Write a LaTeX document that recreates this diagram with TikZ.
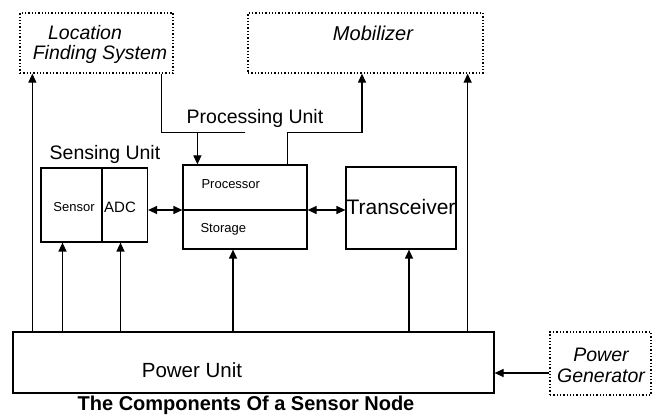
\documentclass[tikz,border=0pt]{standalone}
\usepackage{fontspec}
\setmainfont{Liberation Sans}
\usetikzlibrary{arrows.meta}

\tikzset{
  unitbox/.style={draw, line width=1.2pt, inner sep=0pt},
  outerbox/.style={draw, dotted, line width=1.3pt, inner sep=0pt},
  arr/.style={line width=1.2pt, -{Triangle[width=8pt,length=9pt]}},
  dbl/.style={line width=1.2pt, {Triangle[width=8pt,length=9pt]}-{Triangle[width=8pt,length=9pt]}},
  lbl/.style={font=\fontsize{19.5}{22}\selectfont},
  ital/.style={font=\fontsize{#1}{22}\selectfont\itshape},
  small/.style={font=\fontsize{13}{15}\selectfont}
}

\begin{document}
\begin{tikzpicture}[x=1pt, y=-1pt]
\useasboundingbox (0,0) rectangle (657,419);

% Outer (dotted) parts
\node[outerbox, minimum width=153pt, minimum height=60pt] (loc) at (96.5,43) {};
\node[ital=19.5] at (85,33) {Location};
\node[ital=19.5] at (100,54) {Finding System};
\node[outerbox, minimum width=235pt, minimum height=60pt] (mob) at (365.5,43) {};
\node[ital=20] at (373,33) {Mobilizer};
\node[outerbox, minimum width=101pt, minimum height=63pt] (pgen) at (600.5,363.5) {};
\node[ital=19.5] at (601,355) {Power};
\node[ital=19.5] at (601,376) {Generator};

% Sensing unit
\node[lbl] at (105,154) {Sensing Unit};
\node[unitbox, minimum width=61pt, minimum height=74pt] (sensor) at (71.5,205) {};
\node[unitbox, minimum width=46pt, minimum height=74pt] (adc) at (124.5,205) {};
\node[small] at (74,207) {Sensor};
\node[small, font=\fontsize{15}{17}\selectfont] at (120,207) {ADC};

% Processing unit
\node[lbl] at (255,118) {Processing Unit};
\node[unitbox, minimum width=124pt, minimum height=84pt] (proc) at (245,207) {};
\coordinate (procw) at ([yshift=-3pt]proc.west);
\coordinate (proce) at ([yshift=-3pt]proc.east);
\draw[line width=1.2pt] (procw) -- (proce);
\node[small, anchor=west] at (198,184) {Processor};
\node[small, anchor=west] at (197,229) {Storage};

% Transceiver
\node[unitbox, minimum width=110pt, minimum height=82pt] (trx) at (401,208) {};
\node[font=\fontsize{21}{24}\selectfont] at (401,207) {Transceiver};

% Power unit
\node[unitbox, minimum width=481pt, minimum height=61pt] (power) at (253.5,362.5) {};
\node[font=\fontsize{20.5}{24}\selectfont] at (192,370) {Power Unit};
\coordinate (pgenw) at ([yshift=-9.5pt]pgen.west);

% Connections
\draw[dbl] (adc.east |- procw) -- (procw);
\draw[dbl] (proce) -- (trx.west |- proce);
\draw[arr] ([xshift=13pt]loc.south west |- power.north) -- ([xshift=13pt]loc.south west);
\draw[arr] ([xshift=-12pt]loc.south east) |- ([yshift=32pt]proc.north) -| ([xshift=15pt]proc.north west);
\draw[arr] ([xshift=-20pt]proc.north east) -- ++(0,-32) -| ([xshift=-3.5pt]mob.south);
\draw[arr] ([xshift=-16pt]mob.south east |- power.north) -- ([xshift=-16pt]mob.south east);
\draw[arr] ([xshift=-9pt]sensor.south |- power.north) -- ([xshift=-9pt]sensor.south);
\draw[arr] ([xshift=-4pt]adc.south |- power.north) -- ([xshift=-4pt]adc.south);
\draw[arr] ([xshift=-12pt]proc.south |- power.north) -- ([xshift=-12pt]proc.south);
\draw[arr] ([xshift=8pt]trx.south |- power.north) -- ([xshift=8pt]trx.south);
\draw[arr] (pgenw) -- (power.east |- pgenw);

% Caption
\node[font=\fontsize{20}{23}\selectfont\bfseries] at (246,405) {The Components Of a Sensor Node};
\end{tikzpicture}
\end{document}
